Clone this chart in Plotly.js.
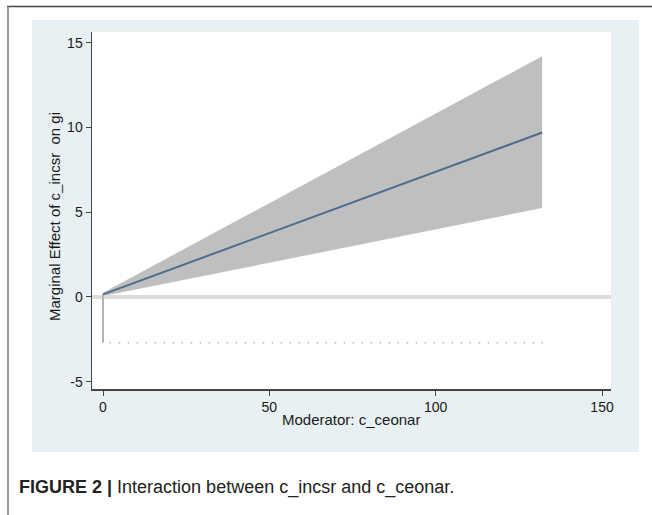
<!DOCTYPE html>
<html>
<head>
<meta charset="utf-8">
<script src="https://cdn.plot.ly/plotly-3.0.1.min.js"></script>
<style>html,body{margin:0;padding:0;background:#fff;}#chart{width:652px;height:515px;}</style>
</head>
<body>
<div id="chart"></div>
<script>
// Moderator values (x) and marginal effect estimates with 95% CI
const moderator = [0, 132];
const effect = [0.15, 9.7];
const ciLower = [0.05, 5.25];
const ciUpper = [0.25, 14.2];
// Zero reference line extent and density rug
const zeroLineX = [-3.31, 152.7];
const zeroLineY = [0, 0];
const rugX = [0, 0];
const rugY = [0.15, -2.7];
const dotX = [2, 133];
const dotY = [-2.7, -2.7];
const xTicks = [0, 50, 100, 150];
const yTicks = [-5, 0, 5, 10, 15];

const L = 92, R = 611, T = 32, B = 389, W = 652, H = 515;
const pw = R - L, ph = B - T;
const px = v => (v - L) / pw;
const py = v => (B - v) / ph;

const traces = [
  {x: moderator, y: ciLower, mode: 'lines', line: {width: 0, color: '#bfbfbf'}, hoverinfo: 'skip', showlegend: false},
  {x: moderator, y: ciUpper, mode: 'lines', fill: 'tonexty', fillcolor: '#bfbfbf', line: {width: 0, color: '#bfbfbf'}, showlegend: false},
  {x: zeroLineX, y: zeroLineY, mode: 'lines', line: {width: 4, color: '#dcdcdc'}, showlegend: false},
  {x: rugX, y: rugY, mode: 'lines', line: {width: 2, color: '#b4b4b4'}, showlegend: false},
  {x: dotX, y: dotY, mode: 'lines', line: {width: 1.5, color: '#b4b4b4', dash: '1.5px,7.5px'}, showlegend: false},
  {x: moderator, y: effect, mode: 'lines', line: {width: 2, color: '#4d6d8c'}, showlegend: false}
];

const fam = 'Liberation Sans, Arial, sans-serif';

const layout = {
  width: W, height: H,
  margin: {l: L, r: W - R, t: T, b: H - B, pad: 0},
  paper_bgcolor: '#ffffff',
  plot_bgcolor: 'rgba(0,0,0,0)',
  font: {family: fam, size: 14, color: '#1a1a1a'},
  showlegend: false,
  xaxis: {
    range: [-3.31, 152.7], tickvals: xTicks, ticktext: xTicks.map(String),
    showgrid: false, zeroline: false, showline: true, linecolor: '#444', linewidth: 1.5,
    ticks: 'outside', ticklen: 5, tickcolor: '#444', tickwidth: 1,
    tickfont: {family: fam, size: 14, color: '#1a1a1a'}
  },
  yaxis: {
    range: [-5.43, 15.63], tickvals: yTicks, ticktext: yTicks.map(String),
    showgrid: false, zeroline: false, showline: true, linecolor: '#444', linewidth: 1.5,
    ticks: 'outside', ticklen: 5, tickcolor: '#444', tickwidth: 1,
    tickfont: {family: fam, size: 14, color: '#1a1a1a'}
  },
  shapes: [
    {type: 'rect', xref: 'paper', yref: 'paper', x0: px(32), x1: px(639), y0: py(452), y1: py(20), fillcolor: '#e9f0f3', line: {width: 0}, layer: 'below'},
    {type: 'rect', xref: 'paper', yref: 'paper', x0: 0, x1: 1, y0: 0, y1: 1, fillcolor: '#ffffff', line: {width: 0}, layer: 'below'},
    {type: 'line', xref: 'paper', yref: 'paper', x0: px(7), x1: px(652), y0: py(6.5), y1: py(6.5), line: {color: '#444', width: 1.5}},
    {type: 'line', xref: 'paper', yref: 'paper', x0: px(8), x1: px(8), y0: py(6), y1: py(515), line: {color: '#777', width: 1.5}}
  ],
  annotations: [
    {xref: 'paper', yref: 'paper', x: px(351), y: py(419), xanchor: 'center', yanchor: 'middle', showarrow: false,
     text: 'Moderator: c_ceonar', font: {family: fam, size: 15, color: '#1a1a1a'}},
    {xref: 'paper', yref: 'paper', x: px(55), y: py(217), xanchor: 'center', yanchor: 'middle', showarrow: false, textangle: -90,
     text: 'Marginal Effect of c_incsr&nbsp; on gi', font: {family: fam, size: 15, color: '#1a1a1a'}},
    {xref: 'paper', yref: 'paper', x: px(17), y: py(488), xanchor: 'left', yanchor: 'middle', showarrow: false,
     text: '<b>FIGURE 2 |</b> Interaction between c_incsr and c_ceonar.',
     font: {family: fam, size: 18, color: '#222'}}
  ]
};

Plotly.newPlot('chart', traces, layout, {displayModeBar: false, staticPlot: true});
</script>
</body>
</html>
